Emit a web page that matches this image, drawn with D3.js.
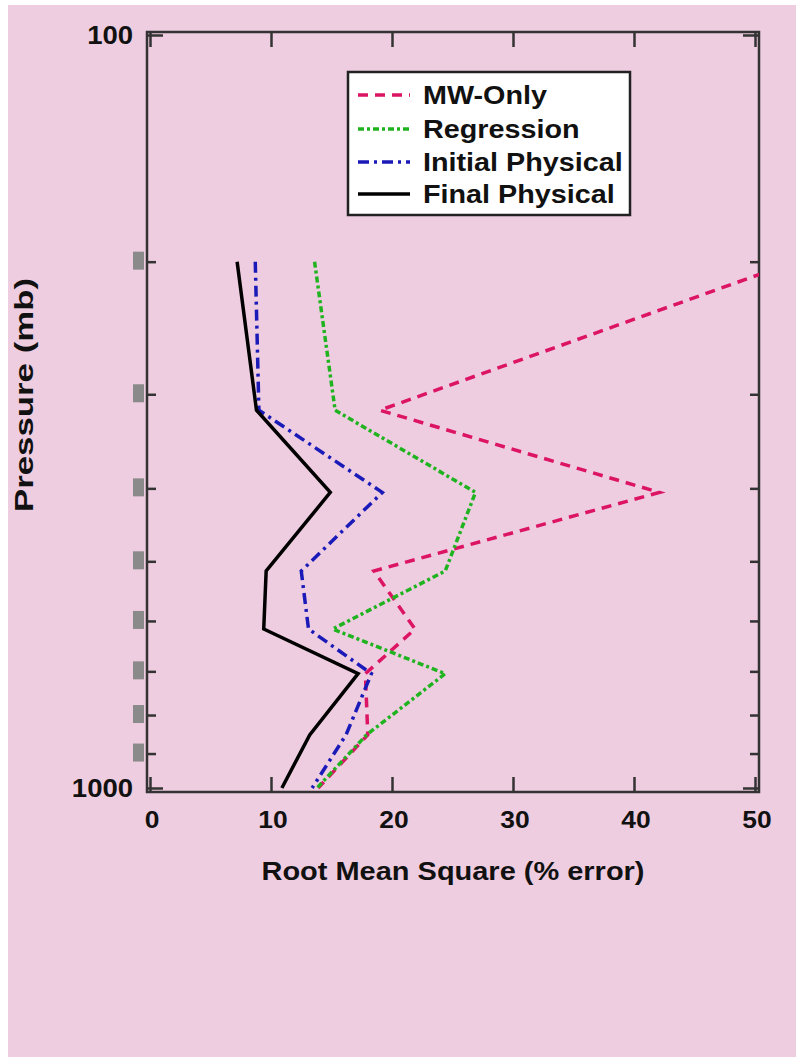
<!DOCTYPE html>
<html>
<head>
<meta charset="utf-8">
<script src="https://cdn.jsdelivr.net/npm/d3@7"></script>
<style>
  html, body { margin: 0; padding: 0; background: #fff; }
  svg text { font-family: "Liberation Sans", Arial, sans-serif; font-weight: bold; fill: #111; }
</style>
</head>
<body>
<div id="chart"></div>
<script>
const width = 796,
      height = 1057;

// pressure levels (mb) of the profile vertices
const levels = [200, 315, 405, 515, 615, 705, 850, 1000];
const mwOnly     = [53.3, 19.0, 42.1, 18.5, 21.9, 17.8, 18.0, 13.9];
const regression = [13.6, 15.3, 26.9, 24.4, 15.1, 24.4, 17.9, 13.8];
const initPhys   = [8.7, 9.0, 19.2, 12.5, 13.1, 18.3, 16.2, 13.4];
const finalPhys  = [7.2, 8.8, 14.9, 9.6, 9.4, 17.2, 13.2, 10.9];

const seriesNames = ["MW-Only", "Regression", "Initial Physical", "Final Physical"];
const xTicks = [0, 10, 20, 30, 40, 50];
const yMajor = [100, 1000];
const yMinor = [200, 300, 400, 500, 600, 700, 800, 900];

const styles = [
  { color: "#dc1464", dash: "10,7", w: 3.5 },
  { color: "#1fb41f", dash: "6,3,3,3", w: 3.5 },
  { color: "#1a1ab8", dash: "11,5,3,5", w: 3.5 },
  { color: "#000000", dash: null, w: 3.5 }
];
const seriesData = [mwOnly, regression, initPhys, finalPhys];

var svg = d3.select('#chart').append('svg')
  .attr('width', width)
  .attr('height', height);

svg.append("rect")
  .attr("x", 8).attr("y", 5)
  .attr("width", width - 8).attr("height", height - 5)
  .attr("fill", "#efcde0");

const x = d3.scaleLinear().domain([0, 50]).range([150, 755]);
const y = d3.scaleLog().domain([100, 1000]).range([35, 788]);

const plot = { left: 147, right: 759, top: 32, bottom: 792 };

svg.append("clipPath").attr("id", "clip")
  .append("rect")
  .attr("x", plot.left).attr("y", plot.top)
  .attr("width", plot.right - plot.left).attr("height", plot.bottom - plot.top);

// gray level markers left of the axis
svg.append("g").selectAll("rect").data(yMinor)
  .enter().append("rect")
  .attr("x", 133).attr("y", d => y(d) - 10)
  .attr("width", 11).attr("height", 18)
  .attr("fill", "#8a8a8a");

// axes
const axisColor = "#333";
function styleAxis(g) {
  g.select(".domain").remove();
  g.selectAll(".tick line").attr("stroke", axisColor).attr("stroke-width", 2.5);
}

svg.append("g").attr("transform", `translate(0,${plot.bottom})`)
  .call(d3.axisBottom(x).tickValues(xTicks).tickSize(-15).tickFormat(""))
  .call(styleAxis);
svg.append("g").attr("transform", `translate(0,${plot.top})`)
  .call(d3.axisTop(x).tickValues(xTicks).tickSize(-15).tickFormat(""))
  .call(styleAxis);
svg.append("g").attr("transform", `translate(${plot.left},0)`)
  .call(d3.axisLeft(y).tickValues(yMinor).tickSize(-9).tickFormat(""))
  .call(styleAxis);
svg.append("g").attr("transform", `translate(${plot.left},0)`)
  .call(d3.axisLeft(y).tickValues(yMajor).tickSize(-16).tickFormat(""))
  .call(styleAxis);
svg.append("g").attr("transform", `translate(${plot.right},0)`)
  .call(d3.axisRight(y).tickValues(yMinor).tickSize(-9).tickFormat(""))
  .call(styleAxis);
svg.append("g").attr("transform", `translate(${plot.right},0)`)
  .call(d3.axisRight(y).tickValues(yMajor).tickSize(-16).tickFormat(""))
  .call(styleAxis);

svg.append("rect")
  .attr("x", plot.left).attr("y", plot.top)
  .attr("width", plot.right - plot.left).attr("height", plot.bottom - plot.top)
  .attr("fill", "none").attr("stroke", axisColor).attr("stroke-width", 2.5);

// tick labels
svg.append("g").selectAll("text").data(xTicks)
  .enter().append("text")
  .attr("transform", d => `translate(${x(d) + 2},828) scale(1.1,1)`)
  .attr("text-anchor", "middle")
  .style("font-size", "24px")
  .text(d => d);

svg.append("g").selectAll("text").data(yMajor)
  .enter().append("text")
  .attr("transform", d => `translate(133,${y(d) + 9}) scale(1.1,1)`)
  .attr("text-anchor", "end")
  .style("font-size", "25px")
  .text(d => d);

// axis titles
svg.append("text")
  .attr("x", 453).attr("y", 880)
  .attr("text-anchor", "middle")
  .attr("textLength", 383).attr("lengthAdjust", "spacingAndGlyphs")
  .style("font-size", "25px")
  .text("Root Mean Square (% error)");

svg.append("text")
  .attr("transform", "translate(33,395) rotate(-90)")
  .attr("text-anchor", "middle")
  .attr("textLength", 234).attr("lengthAdjust", "spacingAndGlyphs")
  .style("font-size", "25px")
  .text("Pressure (mb)");

// profiles
const line = d3.line()
  .x(d => x(d[0]))
  .y(d => y(d[1]));

const lines = svg.append("g").attr("clip-path", "url(#clip)");
seriesData.forEach((vals, i) => {
  lines.append("path")
    .datum(vals.map((v, j) => [v, levels[j]]))
    .attr("d", line)
    .attr("fill", "none")
    .attr("stroke", styles[i].color)
    .attr("stroke-width", styles[i].w)
    .attr("stroke-dasharray", styles[i].dash)
    .attr("stroke-linejoin", "miter");
});

// legend
const legend = svg.append("g");
legend.append("rect")
  .attr("x", 348).attr("y", 72)
  .attr("width", 282).attr("height", 143)
  .attr("fill", "#fff").attr("stroke", "#222").attr("stroke-width", 2.5);

const rowY = [95, 129, 162, 194];
seriesNames.forEach((name, i) => {
  legend.append("line")
    .attr("x1", 358).attr("x2", 410)
    .attr("y1", rowY[i]).attr("y2", rowY[i])
    .attr("stroke", styles[i].color)
    .attr("stroke-width", styles[i].w)
    .attr("stroke-dasharray", styles[i].dash);
  legend.append("text")
    .attr("transform", `translate(423,${rowY[i] + 9}) scale(1.15,1)`)
    .style("font-size", "25px")
    .text(name);
});
</script>
</body>
</html>
